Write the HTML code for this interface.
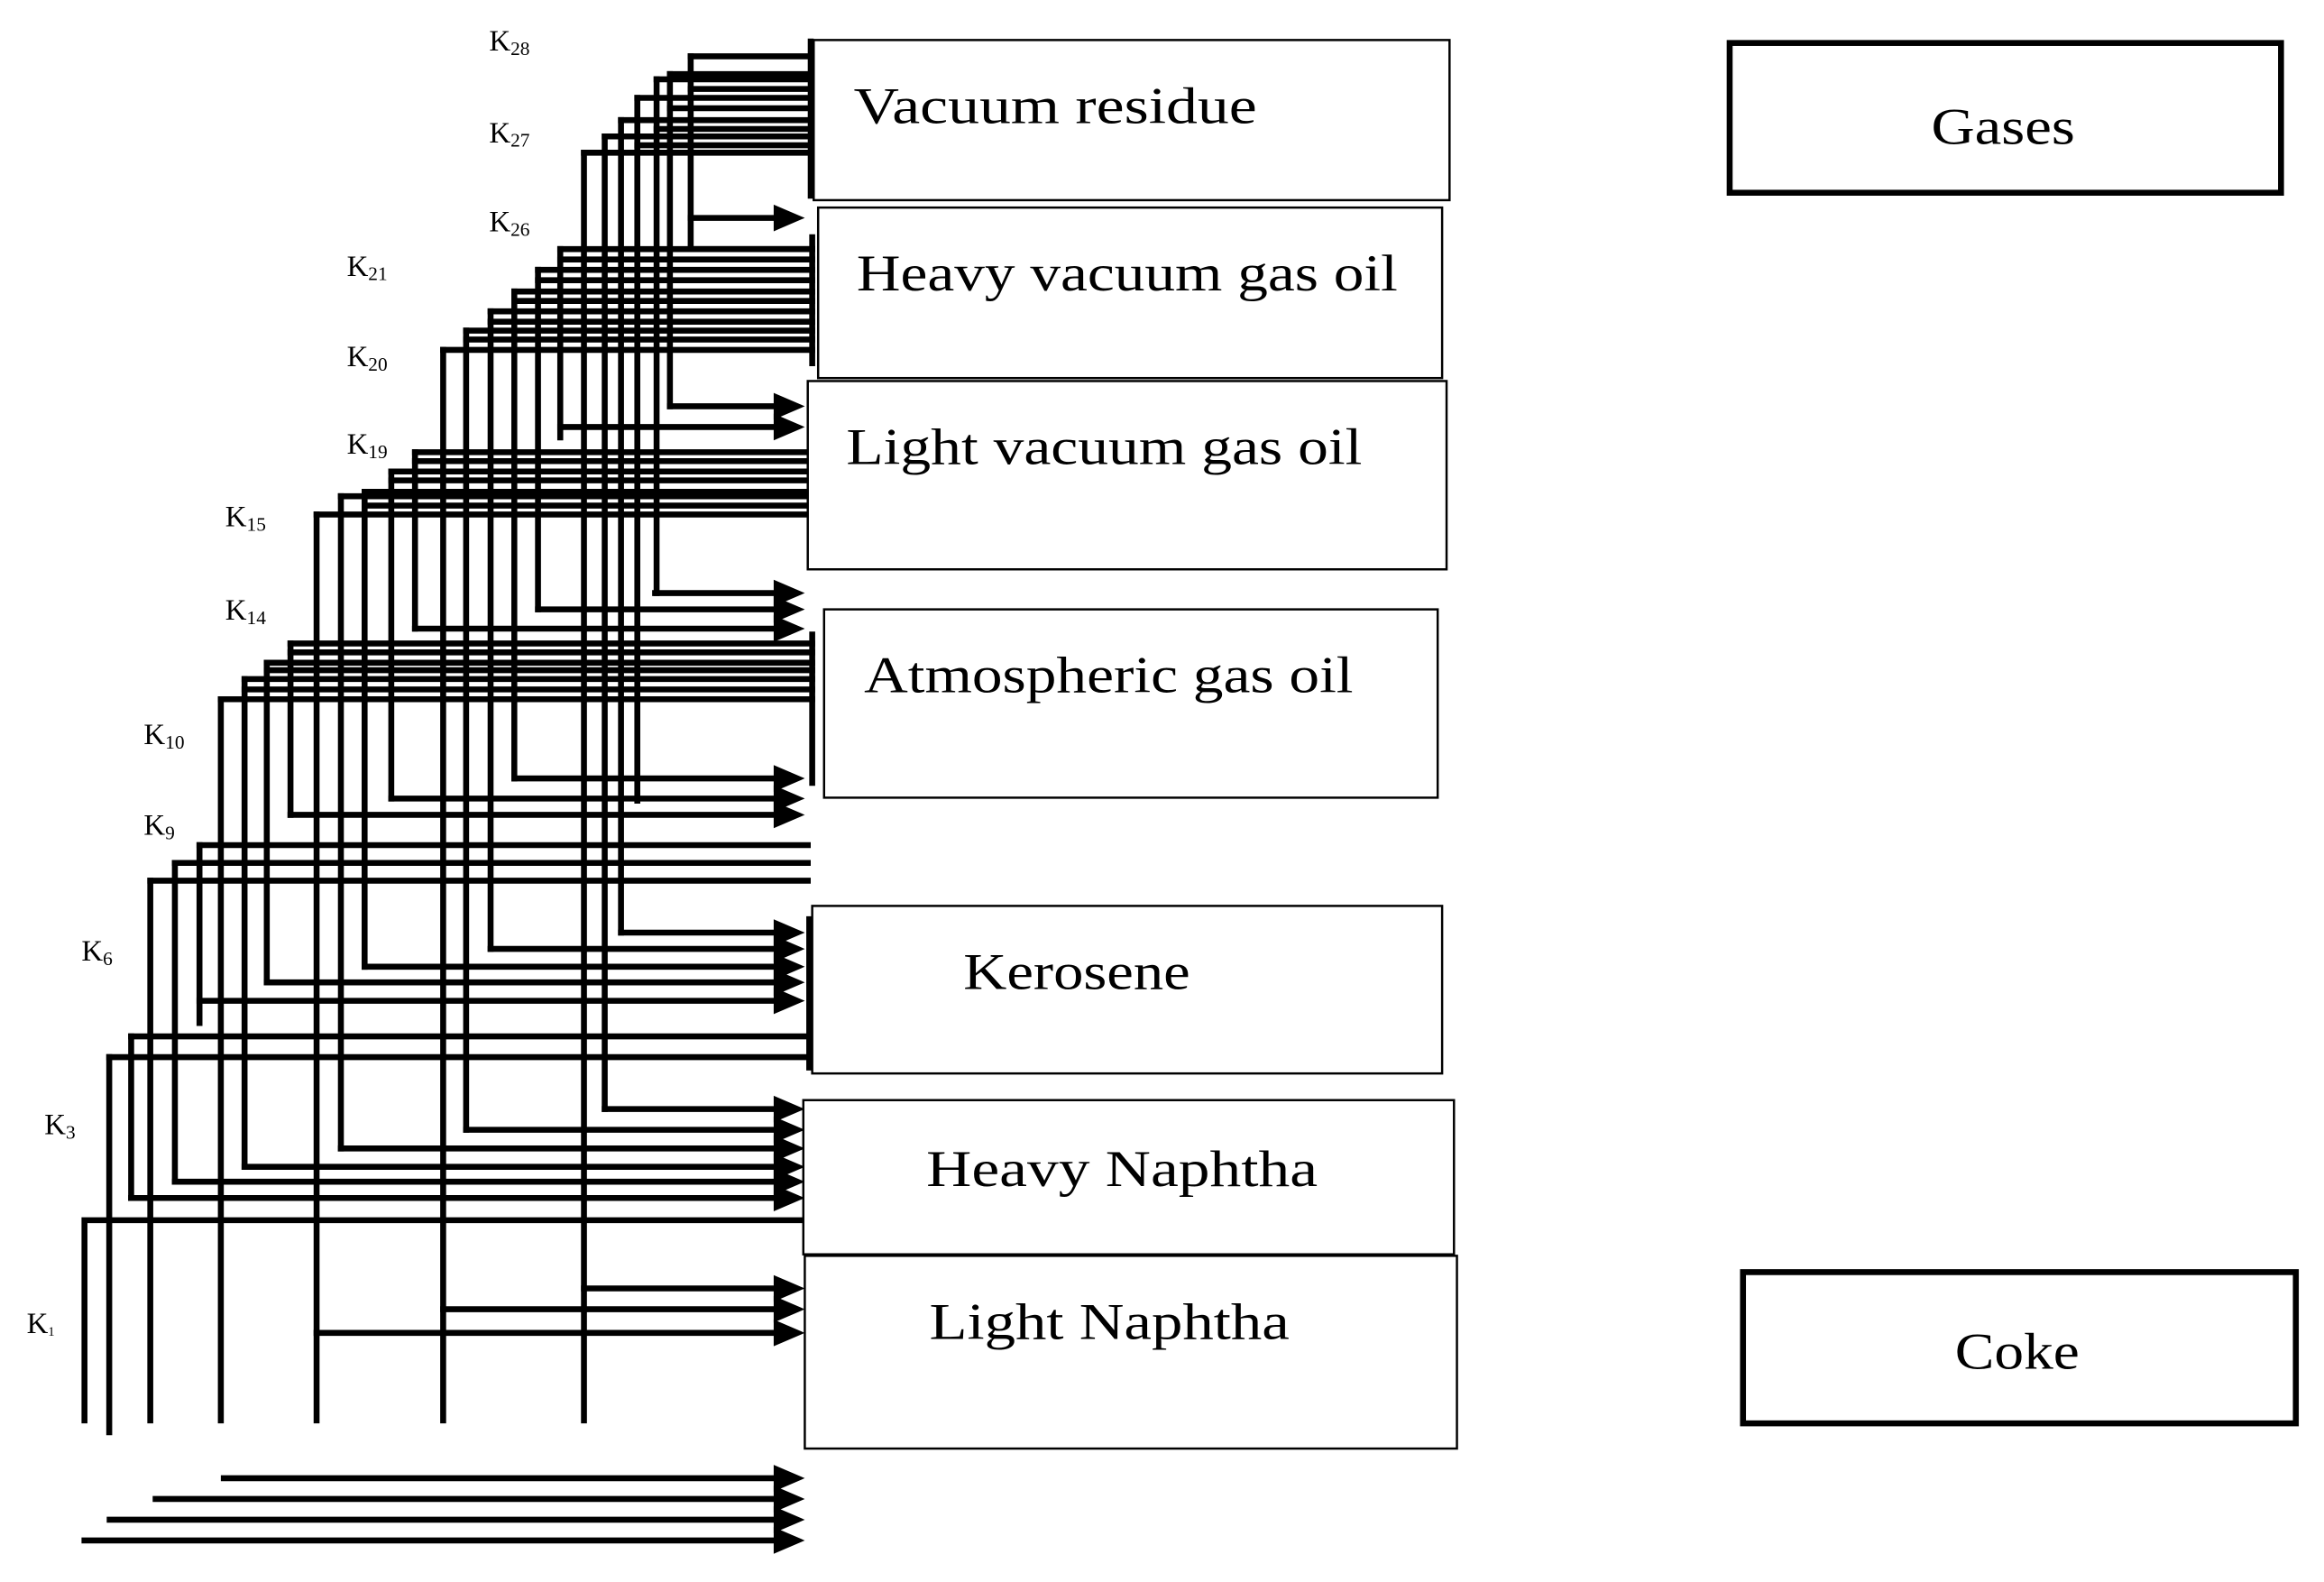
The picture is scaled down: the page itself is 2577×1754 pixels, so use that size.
<!DOCTYPE html>
<html><head><meta charset="utf-8"><style>
html,body{margin:0;padding:0;background:#fff;}
svg{display:block;}
</style></head><body>
<svg width="2577" height="1754" viewBox="0 0 1568 1067" preserveAspectRatio="none" xmlns="http://www.w3.org/2000/svg">
<rect x="0" y="0" width="1568" height="1067" fill="#fff"/>
<g fill="none" stroke="#000" stroke-width="4" stroke-linecap="square">
<!-- Group A -->
<path d="M466 38V168 M452 50V274 M443 53.5V400 M430 66V540 M419 81V629 M408 92V748 M394 103V958"/>
<path d="M466 38H547 M452 50H547 M443 53.5H547 M430 66H547 M419 81H547 M408 92H547 M394 103H547 M466 60H547 M452 73H547 M443 87H547 M430 98H547"/>
<!-- Group B -->
<path d="M466 168H548 M378 168V295 M363 182V411 M347 196.6V525 M331 210V640 M314.5 223V762 M299 236V958"/>
<path d="M378 168H548 M363 182H548 M347 196.6H548 M331 210H548 M314.5 223H548 M299 236H548 M378 175H548 M363 189H548 M347 203H548 M331 217H548 M314.5 229H548"/>
<!-- Group C -->
<path d="M280 305V424 M264 318V538.6 M246 331.7V652 M230 334.7V774.6 M213.6 347V958"/>
<path d="M280 305H545 M264 318H545 M246 331.7H545 M230 334.7H545 M213.6 347H545 M280 311H545 M264 324H545 M246 341H545"/>
<!-- Group D -->
<path d="M196 434V549.6 M180 447V662.6 M165 458V787 M149 471.6V958"/>
<path d="M196 434H548 M180 447H548 M165 458H548 M149 471.6H548 M196 440H548 M180 452H548 M165 465H548"/>
<!-- Group E -->
<path d="M134.6 570V690 M118 582V797 M101.4 594V958"/>
<path d="M134.6 570H545 M118 582H545 M101.4 594H545"/>
<!-- Group F -->
<path d="M88.5 699V808 M73.7 713V966"/>
<path d="M88.5 699H546 M73.7 713H546"/>
<!-- Group G -->
<path d="M57 823V958 M57 823H543"/>
<!-- brackets -->
<path d="M547 28V132 M548 160V245 M548 428V528 M546 620V720"/>
<!-- arrows shafts -->
<path d="M466 147H524 M452 274H524 M378 288H524 M442 400H524 M363 411H524 M280 424H524 M347 525H524 M264 538.6H524 M196 549.6H524 M419 629H524 M331 640H524 M246 652H524 M180 662.6H524 M134.6 675H524 M408 748H524 M314.5 762H524 M230 774.6H524 M165 787H524 M118 797H524 M88.5 808H524 M394 869H524 M299 883H524 M213.6 899H524 M151 997H524 M105 1011H524 M74 1025H524 M57 1039H524"/>
</g>
<g fill="#000">
<polygon points="522,138 543,147 522,156"/>
<polygon points="522,265 543,274 522,283"/>
<polygon points="522,279 543,288 522,297"/>
<polygon points="522,391 543,400 522,409"/>
<polygon points="522,402 543,411 522,420"/>
<polygon points="522,415 543,424 522,433"/>
<polygon points="522,516 543,525 522,534"/>
<polygon points="522,529.6 543,538.6 522,547.6"/>
<polygon points="522,540.6 543,549.6 522,558.6"/>
<polygon points="522,620 543,629 522,638"/>
<polygon points="522,631 543,640 522,649"/>
<polygon points="522,643 543,652 522,661"/>
<polygon points="522,653.6 543,662.6 522,671.6"/>
<polygon points="522,666 543,675 522,684"/>
<polygon points="522,739 543,748 522,757"/>
<polygon points="522,753 543,762 522,771"/>
<polygon points="522,765.6 543,774.6 522,783.6"/>
<polygon points="522,778 543,787 522,796"/>
<polygon points="522,788 543,797 522,806"/>
<polygon points="522,799 543,808 522,817"/>
<polygon points="522,860 543,869 522,878"/>
<polygon points="522,874 543,883 522,892"/>
<polygon points="522,890 543,899 522,908"/>
<polygon points="522,988 543,997 522,1006"/>
<polygon points="522,1002 543,1011 522,1020"/>
<polygon points="522,1016 543,1025 522,1034"/>
<polygon points="522,1030 543,1039 522,1048"/>
</g>
<g fill="#fff" stroke="#000" stroke-width="1.5">
<rect x="549" y="27" width="429" height="108"/>
<rect x="552" y="140" width="421" height="115"/>
<rect x="545" y="257" width="431" height="127"/>
<rect x="556" y="411" width="414" height="127"/>
<rect x="548" y="611" width="425" height="113"/>
<rect x="542" y="742" width="439" height="104"/>
<rect x="543" y="847" width="440" height="130"/>
</g>
<g fill="none" stroke="#000" stroke-width="4">
<rect x="1167" y="29" width="372" height="101"/>
<rect x="1176" y="858" width="373" height="102"/>
</g>
<g font-family="'Liberation Serif', serif" font-size="35" fill="#000">
<text x="576" y="83" textLength="272" lengthAdjust="spacingAndGlyphs">Vacuum residue</text>
<text x="578" y="196" textLength="365" lengthAdjust="spacingAndGlyphs">Heavy vacuum gas oil</text>
<text x="571" y="313" textLength="348" lengthAdjust="spacingAndGlyphs">Light vacuum gas oil</text>
<text x="583" y="467" textLength="330" lengthAdjust="spacingAndGlyphs">Atmospheric gas oil</text>
<text x="650" y="667" textLength="153" lengthAdjust="spacingAndGlyphs">Kerosene</text>
<text x="625" y="800" textLength="264" lengthAdjust="spacingAndGlyphs">Heavy Naphtha</text>
<text x="627" y="903" textLength="243" lengthAdjust="spacingAndGlyphs">Light Naphtha</text>
<text x="1303" y="97" textLength="97" lengthAdjust="spacingAndGlyphs">Gases</text>
<text x="1319" y="923" textLength="84" lengthAdjust="spacingAndGlyphs">Coke</text>
</g>
<g font-family="'Liberation Serif', serif" font-size="20" fill="#000">
<text x="330" y="34">K<tspan font-size="13" dy="3">28</tspan></text>
<text x="330" y="96">K<tspan font-size="13" dy="3">27</tspan></text>
<text x="330" y="156">K<tspan font-size="13" dy="3">26</tspan></text>
<text x="234" y="186">K<tspan font-size="13" dy="3">21</tspan></text>
<text x="234" y="247">K<tspan font-size="13" dy="3">20</tspan></text>
<text x="234" y="306">K<tspan font-size="13" dy="3">19</tspan></text>
<text x="152" y="355">K<tspan font-size="13" dy="3">15</tspan></text>
<text x="152" y="418">K<tspan font-size="13" dy="3">14</tspan></text>
<text x="97" y="502">K<tspan font-size="13" dy="3">10</tspan></text>
<text x="97" y="563">K<tspan font-size="13" dy="3">9</tspan></text>
<text x="55" y="648">K<tspan font-size="13" dy="3">6</tspan></text>
<text x="30" y="765">K<tspan font-size="13" dy="3">3</tspan></text>
<text x="18" y="899">K<tspan font-size="9" dy="2">1</tspan></text>
</g>
</svg>
</body></html>
